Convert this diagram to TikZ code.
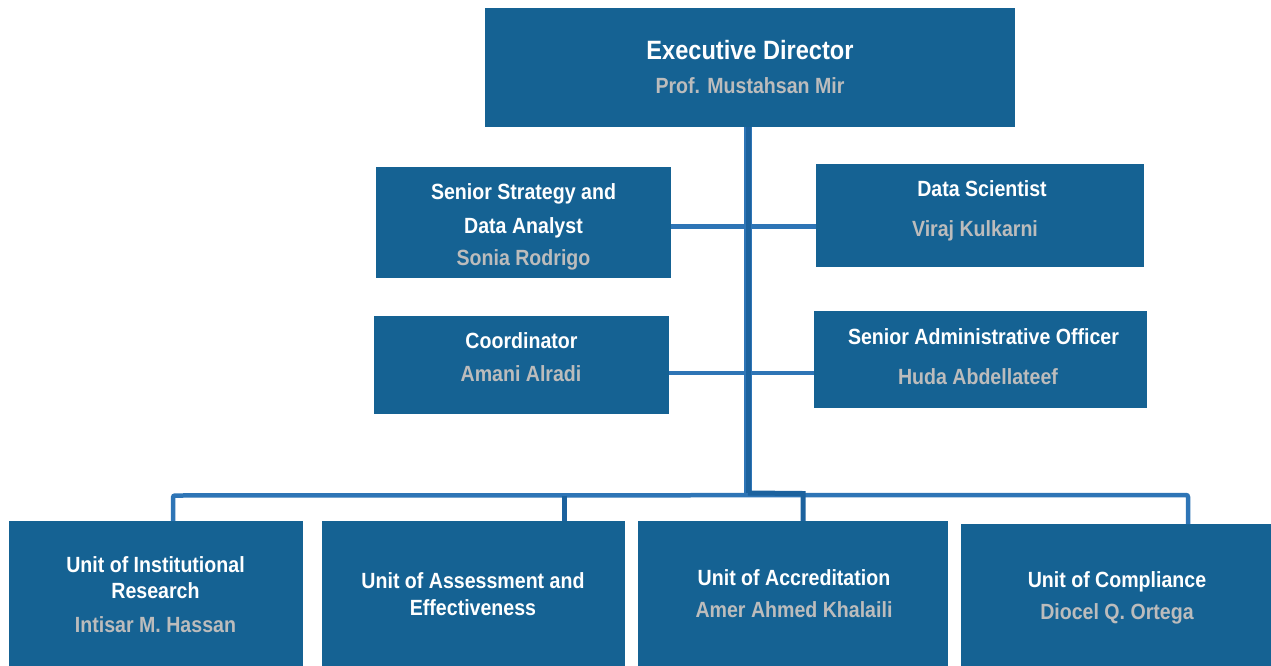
\documentclass[tikz,border=0pt]{standalone}
\usepackage{fontspec}
\setmainfont{Liberation Sans}[FakeStretch=0.89]
\definecolor{boxblue}{RGB}{21,98,147}
\definecolor{linelight}{RGB}{46,117,182}
\definecolor{linedark}{RGB}{28,98,158}
\definecolor{namegrey}{RGB}{188,188,188}
\tikzset{
  orgbox/.style={rectangle, fill=boxblue, draw=none, inner sep=0pt, outer sep=0pt, anchor=north west},
  ttl/.style={text=white, font=\fontsize{22}{26}\selectfont\bfseries, anchor=base, inner sep=0pt},
  bigttl/.style={text=white, font=\fontsize{26.5}{30}\selectfont\bfseries, anchor=base, inner sep=0pt},
  nm/.style={text=namegrey, font=\fontsize{22}{26}\selectfont\bfseries, anchor=base, inner sep=0pt},
  conn/.style={draw=linelight, line width=4.5pt},
  dconn/.style={draw=linedark, line width=4.5pt},
  trunkout/.style={draw=linelight, line width=7.5pt},
  trunkin/.style={draw=linedark, line width=5pt}
}
\begin{document}
\begin{tikzpicture}[x=1pt,y=-1pt]
\useasboundingbox (0,0) rectangle (1271,666);
% boxes
\node[orgbox, minimum width=530pt, minimum height=119pt] (ed) at (485,8) {};
\node[orgbox, minimum width=295pt, minimum height=111pt] (ssda) at (376,167) {};
\node[orgbox, minimum width=328pt, minimum height=103pt] (ds) at (816,164) {};
\node[orgbox, minimum width=295pt, minimum height=98pt] (co) at (374,316) {};
\node[orgbox, minimum width=333pt, minimum height=97pt] (sao) at (814,311) {};
\node[orgbox, minimum width=294pt, minimum height=145pt] (u1) at (9,521) {};
\node[orgbox, minimum width=303pt, minimum height=145pt] (u2) at (322,521) {};
\node[orgbox, minimum width=310pt, minimum height=145pt] (u3) at (638,521) {};
\node[orgbox, minimum width=310pt, minimum height=142pt] (u4) at (961,524) {};
% junction coordinates
\coordinate (tr) at (748,0);
\coordinate (j1) at (748,226.5);
\coordinate (j2) at (748,373);
\coordinate (tb) at (748,493);
\coordinate (d1) at (173,495.5);
\coordinate (d2) at (564.5,495.5);
\coordinate (d3) at (803,493.5);
\coordinate (d4) at (1188,495);
% connectors
\draw[conn, rounded corners=2pt] (u1.north -| d1) -- (d1) -- (d4) -- (u4.north -| d4);
\draw[dconn] (d2) -- (u2.north -| d2);
\draw[conn] (ssda.east |- j1) -- (ds.west |- j1);
\draw[conn] (co.east |- j2) -- (sao.west |- j2);
\draw[trunkout] (ed.south -| tr) -- (tb);
\draw[trunkin] (ed.south -| tr) -- (tb);
\draw[dconn, line width=5pt] (tb) -- (d3) -- (u3.north -| d3);
% texts
\node[bigttl] (ed-t) at (750,60) {Executive Director};
\node[nm] (ed-n) at (750,94) {Prof. Mustahsan Mir};
\node[ttl] (ssda-t1) at (523.5,199) {Senior Strategy and};
\node[ttl] (ssda-t2) at (523.5,233) {Data Analyst};
\node[nm] (ssda-n) at (523.5,265) {Sonia Rodrigo};
\node[ttl] (ds-t) at (982,196) {Data Scientist};
\node[nm] (ds-n) at (975,236) {Viraj Kulkarni};
\node[ttl] (co-t) at (521.5,348) {Coordinator};
\node[nm] (co-n) at (521,381) {Amani Alradi};
\node[ttl] (sao-t) at (983.5,344) {Senior Administrative Officer};
\node[nm] (sao-n) at (978,384) {Huda Abdellateef};
\node[ttl] (u1-t1) at (155.5,572) {Unit of Institutional};
\node[ttl] (u1-t2) at (155.5,598) {Research};
\node[nm] (u1-n) at (155.5,632) {Intisar M. Hassan};
\node[ttl] (u2-t1) at (473,588) {Unit of Assessment and};
\node[ttl] (u2-t2) at (473,615) {Effectiveness};
\node[ttl] (u3-t) at (794,585) {Unit of Accreditation};
\node[nm] (u3-n) at (794,617) {Amer Ahmed Khalaili};
\node[ttl] (u4-t) at (1117,587) {Unit of Compliance};
\node[nm] (u4-n) at (1117,619) {Diocel Q. Ortega};
\end{tikzpicture}
\end{document}
